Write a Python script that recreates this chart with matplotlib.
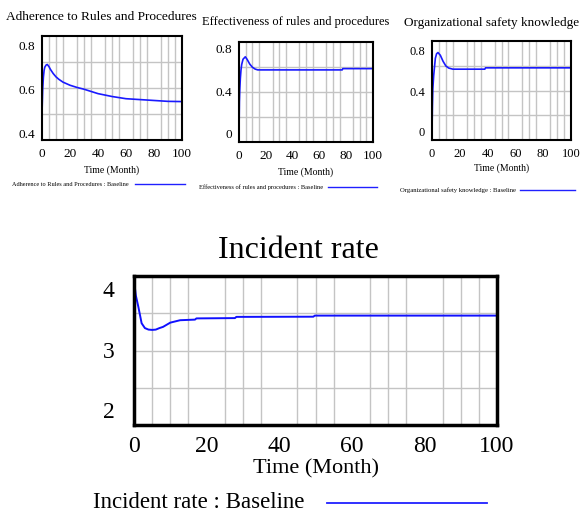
import numpy as np
import matplotlib
matplotlib.use("Agg")
import matplotlib.pyplot as plt
from matplotlib.lines import Line2D

plt.rcParams['font.family'] = ['Liberation Serif', 'DejaVu Serif']

# values (Vensim style output)
t_adh = [0, 0.5, 1, 1.5, 2, 3, 3.8, 5, 6, 8, 10, 12, 15, 20, 25, 30, 40, 50, 60, 70, 80, 90, 100]
adherence = [0.49, 0.60, 0.655, 0.685, 0.70, 0.71, 0.712, 0.702, 0.69, 0.671, 0.656, 0.645, 0.632,
             0.618, 0.608, 0.60, 0.58, 0.567, 0.557, 0.553, 0.549, 0.545, 0.544]

t_eff = [0, 0.3, 0.6, 1, 1.5, 2, 3, 4.7, 6, 8, 10, 12, 14, 77, 77.5, 100]
effectiveness = [0, 0.3, 0.42, 0.52, 0.6, 0.65, 0.70, 0.723, 0.70, 0.655, 0.625, 0.608, 0.60,
                 0.60, 0.612, 0.612]

t_know = [0, 0.3, 0.6, 1.2, 2.4, 3.3, 4.3, 6, 8, 10, 12, 15, 38, 38.5, 100]
knowledge = [0, 0.25, 0.42, 0.55, 0.72, 0.765, 0.777, 0.75, 0.69, 0.645, 0.625, 0.614,
             0.614, 0.627, 0.627]

t_inc = [0, 0.5, 1.2, 2.1, 3, 4, 5, 6, 7, 8, 10, 12.7, 16.8, 17.2, 27.8, 28.2, 49.4, 49.8, 100]
incident = [4.15, 3.9, 3.71, 3.44, 3.36, 3.335, 3.33, 3.335, 3.36, 3.38, 3.45, 3.49, 3.5,
            3.52, 3.525, 3.545, 3.548, 3.566, 3.566]

W, H = 580, 515
fig = plt.figure(figsize=(W / 100, H / 100), dpi=100)


def px_axes(x0, y0, x1, y1):
    return fig.add_axes([x0 / W, 1 - y1 / H, (x1 - x0) / W, (y1 - y0) / H])


def style(ax, ylim, yticks, ylabels, fs, lw, xpad, ypad):
    ax.set_xlim(0, 100)
    ax.set_ylim(*ylim)
    ax.set_xticks([0, 20, 40, 60, 80, 100])
    ax.set_yticks(yticks)
    ax.set_yticklabels(ylabels)
    ax.set_xticks(np.arange(0, 101, 5), minor=True)
    ax.set_yticks(np.linspace(ylim[0], ylim[1], 5)[1:-1], minor=True)
    ax.grid(which='minor', color='#c4c4c4', linewidth=1.0)
    ax.tick_params(which='both', length=0)
    ax.tick_params(axis='x', labelsize=fs, pad=xpad)
    ax.tick_params(axis='y', labelsize=fs, pad=ypad)
    for s in ax.spines.values():
        s.set_linewidth(lw)


def legend_line(x0, x1, y, lw):
    fig.add_artist(Line2D([x0 / W, x1 / W], [1 - y / H, 1 - y / H], color='#2020ff', lw=lw))


# Adherence
ax1 = px_axes(42, 36, 182, 140)
ax1.plot(t_adh, adherence, color='#1a1aff', lw=1.2)
style(ax1, (0.37, 0.841), [0.4, 0.6, 0.8], ['0.4', '0.6', '0.8'], 9.5, 1.5, 6, 5)
fig.text(101 / W, 1 - 17 / H, 'Adherence to Rules and Procedures', ha='center', va='center', fontsize=9.6)
fig.text(112 / W, 1 - 170 / H, 'Time (Month)', ha='center', va='center', fontsize=7)
fig.text(12 / W, 1 - 184 / H, 'Adherence to Rules and Procedures : Baseline', ha='left', va='center', fontsize=4.5)
legend_line(135, 185, 184, 1)

# Effectiveness
ax2 = px_axes(239, 42, 373, 142)
ax2.plot(t_eff, effectiveness, color='#1a1aff', lw=1.2)
style(ax2, (-0.077, 0.862), [0, 0.4, 0.8], ['0', '0.4', '0.8'], 9.5, 1.5, 6, 5)
fig.text(296 / W, 1 - 22 / H, 'Effectiveness of rules and procedures', ha='center', va='center', fontsize=9)
fig.text(306 / W, 1 - 172 / H, 'Time (Month)', ha='center', va='center', fontsize=7)
fig.text(199 / W, 1 - 187 / H, 'Effectiveness of rules and procedures : Baseline', ha='left', va='center', fontsize=4.6)
legend_line(328, 377, 187, 1)

# Knowledge
ax3 = px_axes(432, 41, 571, 140)
ax3.plot(t_know, knowledge, color='#1a1aff', lw=1.2)
style(ax3, (-0.08, 0.89), [0, 0.4, 0.8], ['0', '0.4', '0.8'], 9, 1.5, 6, 5)
fig.text(492 / W, 1 - 23 / H, 'Organizational safety knowledge', ha='center', va='center', fontsize=9.5)
fig.text(502 / W, 1 - 168 / H, 'Time (Month)', ha='center', va='center', fontsize=7)
fig.text(400 / W, 1 - 190 / H, 'Organizational safety knowledge : Baseline', ha='left', va='center', fontsize=4.75)
legend_line(520, 575, 190, 1)

# Incident rate
ax4 = px_axes(134, 276, 497, 425)
ax4.plot(t_inc, incident, color='#1010ff', lw=1.4)
style(ax4, (1.76, 4.22), [2, 3, 4], ['2', '3', '4'], 17, 2.5, 8, 14)
fig.text(298 / W, 1 - 250 / H, 'Incident rate', ha='center', va='center', fontsize=23)
fig.text(316 / W, 1 - 469 / H, 'Time (Month)', ha='center', va='center', fontsize=16)
fig.text(93 / W, 1 - 503 / H, 'Incident rate : Baseline', ha='left', va='center', fontsize=16.5)
legend_line(327, 487, 503, 1.3)

fig.savefig('out.png', dpi=100)
